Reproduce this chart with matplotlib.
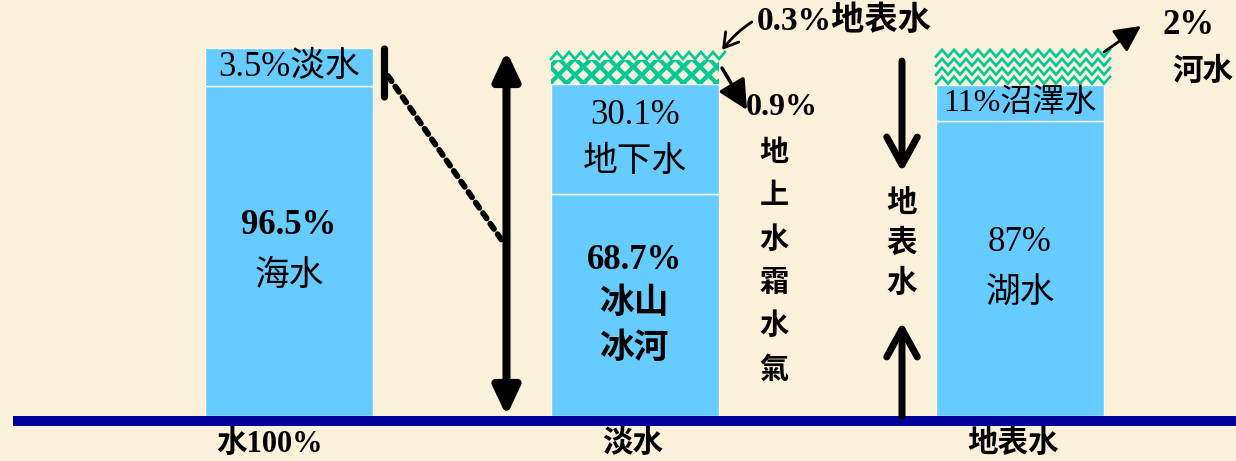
import numpy as np
import matplotlib.pyplot as plt

# 水的分配 (百分比)
categories = ["水100%", "淡水", "地表水"]
water_pct = [96.5, 3.5]
water_names = ["海水", "淡水"]
fresh_pct = [68.7, 30.1, 0.9, 0.3]
fresh_names = ["冰山\n冰河", "地下水", "地上水霜水氣", "地表水"]
surface_pct = [87, 11, 2]
surface_names = ["湖水", "沼澤水", "河水"]

W, H = 1236, 461
bg = "#FBF1DA"
blue = "#66CCFF"
green = "#00C896"
navy = "#000099"
fam = ["Liberation Serif", "Noto Sans CJK TC"]

plt.rcParams["hatch.linewidth"] = 3.0

# 示意用的縱軸: 頂端幾個百分點放大, 小份量才看得到
knots_pct = [-1000, 0, 68.7, 87, 96.5, 98.8, 99.7, 100, 1000]
knots_px = [-3231, 0, 222, 295, 330, 332, 356, 368, 368 + 900 * 40]


def to_px(y):
    return np.interp(y, knots_pct, knots_px)


def from_px(p):
    return np.interp(p, knots_px, knots_pct)


def P(x, y):
    # 圖上像素座標 (左上為原點)
    return (x, H - y)


fig = plt.figure(figsize=(W / 100, H / 100), dpi=100)
fig.patch.set_facecolor(bg)
ax = fig.add_axes([0, 0, 1, 1])
ax.set_yscale("function", functions=(to_px, from_px))
ax.set_xlim(0, W)
ax.set_ylim(from_px(-45), from_px(416))
ax.axis("off")

x_pos = [289, 635, 1020]
bar_w = 168


def zigzag(b, step=9, amp=3.5, period=12):
    x0 = b.get_x()
    x1 = x0 + b.get_width()
    lo = to_px(b.get_y())
    hi = to_px(b.get_y() + b.get_height())
    xs = np.arange(x0, x1 + period, period / 2)
    sign = np.where(np.arange(len(xs)) % 2 == 0, -1, 1)
    for row in np.arange(lo + step / 2, hi, step):
        ax.plot(xs, from_px(row + amp * sign), color=green, lw=1.9,
                clip_path=b, solid_joinstyle="miter")


def stack(x, values, kinds):
    bars = []
    bottom = 0
    for v, kind in zip(values, kinds):
        if kind == "solid":
            b = ax.bar(x, v, bottom=bottom, width=bar_w, color=blue,
                       edgecolor="white", linewidth=1)[0]
        elif kind == "hatch":
            b = ax.bar(x, v, bottom=bottom, width=bar_w, color=bg,
                       edgecolor=green, linewidth=0, hatch="xx")[0]
        else:
            b = ax.bar(x, v, bottom=bottom, width=bar_w, color=bg, linewidth=0)[0]
            zigzag(b)
        bars.append(b)
        bottom += v
    return bars


def seg_text(b, lines, dy=46, size=25):
    cx = b.get_x() + b.get_width() / 2
    mid = from_px((to_px(b.get_y()) + to_px(b.get_y() + b.get_height())) / 2)
    n = len(lines)
    for i, (s, w) in enumerate(lines):
        off = (n - 1) / 2 * dy - i * dy
        ax.annotate(s, (cx, mid), xytext=(0, off), textcoords="offset pixels",
                    ha="center", va="center", fontsize=size, fontweight=w,
                    family=fam)


left = stack(x_pos[0], water_pct, ["solid", "solid"])
mid = stack(x_pos[1], fresh_pct, ["solid", "solid", "hatch", "zigzag"])
right = stack(x_pos[2], surface_pct, ["solid", "solid", "zigzag"])

# 底線
ax.axhspan(from_px(-10), from_px(0), xmin=13 / W, xmax=1, color=navy, lw=0)

# 長條內的文字
seg_text(left[0], [(f"{water_pct[0]:g}%", "bold"), (water_names[0], "normal")], dy=50)
seg_text(left[1], [(f"{water_pct[1]:g}%{water_names[1]}", "normal")])
seg_text(mid[0], [(f"{fresh_pct[0]:g}%", "bold")]
         + [(s, "bold") for s in fresh_names[0].split("\n")], dy=44)
seg_text(mid[1], [(f"{fresh_pct[1]:g}%", "normal"), (fresh_names[1], "normal")], dy=47)
seg_text(right[0], [(f"{surface_pct[0]:g}%", "normal"), (surface_names[0], "normal")], dy=52)
seg_text(right[1], [(f"{surface_pct[1]:g}%{surface_names[1]}", "normal")], size=23)

# 底部分類名稱
for x, dx, cat in zip(x_pos, [-19, -2, -7], categories):
    ax.annotate(cat, (x, from_px(-28)), xytext=(dx, 0), textcoords="offset pixels",
                ha="center", va="center", fontsize=22, fontweight="bold",
                family=fam)

# 左邊: 淡水放大的指示線
ax.annotate("", P(384.5, 97), P(384.5, 49), xycoords="figure pixels",
            arrowprops=dict(arrowstyle="-", lw=5.2, color="black",
                            shrinkA=0, shrinkB=0))
ax.annotate("", P(503, 242), P(388, 76), xycoords="figure pixels",
            arrowprops=dict(arrowstyle="-", lw=4.2, color="black",
                            linestyle=(0, (1.1, 1.1)), shrinkA=0, shrinkB=0))
ax.annotate("", P(506.5, 51), P(506.5, 416), xycoords="figure pixels",
            arrowprops=dict(arrowstyle="<|-|>,head_length=0.85,head_width=0.4",
                            lw=5.8, color="black", mutation_scale=20,
                            shrinkA=0, shrinkB=0))

# 中間: 地表水 / 地上水霜水氣
ax.annotate(f"{fresh_pct[3]:g}%{fresh_names[3]}", P(722, 50), xytext=P(757, 21),
            xycoords="figure pixels", textcoords="figure pixels",
            ha="left", va="center", fontsize=24, fontweight="bold", family=fam,
            arrowprops=dict(arrowstyle="->,head_length=0.5,head_width=0.3",
                            lw=2, color="black", mutation_scale=20,
                            connectionstyle="arc3,rad=0.4",
                            shrinkA=2, shrinkB=0))
ax.annotate("", P(747, 110), P(722, 68), xycoords="figure pixels",
            arrowprops=dict(arrowstyle="-|>,head_length=0.9,head_width=0.45",
                            lw=2.5, color="black", mutation_scale=20,
                            shrinkA=0, shrinkB=0))
ax.annotate(f"{fresh_pct[2]:g}%", P(746, 107), xycoords="figure pixels",
            ha="left", va="center", fontsize=23, fontweight="bold", family=fam)
for i, ch in enumerate(fresh_names[2]):
    ax.annotate(ch, P(774, 153 + 43.4 * i), xycoords="figure pixels",
                ha="center", va="center", fontsize=21, fontweight="bold",
                family=fam)

# 右邊: 地表水箭頭
ax.annotate("", P(902, 172), P(902, 61), xycoords="figure pixels",
            arrowprops=dict(arrowstyle="->,head_length=1.0,head_width=0.55",
                            lw=5, color="black", mutation_scale=20,
                            shrinkA=0, shrinkB=0))
ax.annotate("", P(902, 322), P(902, 416), xycoords="figure pixels",
            arrowprops=dict(arrowstyle="->,head_length=1.0,head_width=0.55",
                            lw=5, color="black", mutation_scale=20,
                            shrinkA=0, shrinkB=0))
for i, ch in enumerate(categories[2]):
    ax.annotate(ch, P(902, 204 + 40 * i), xycoords="figure pixels",
                ha="center", va="center", fontsize=22, fontweight="bold",
                family=fam)

# 河水
ax.annotate("", P(1141, 26), P(1104, 52), xycoords="figure pixels",
            arrowprops=dict(arrowstyle="-|>,head_length=0.8,head_width=0.4",
                            lw=2, color="black", mutation_scale=20,
                            shrinkA=0, shrinkB=0))
ax.annotate(f"{surface_pct[2]:g}%", P(1188, 25), xycoords="figure pixels",
            ha="center", va="center", fontsize=25, fontweight="bold", family=fam)
ax.annotate(surface_names[2], P(1203, 72), xycoords="figure pixels",
            ha="center", va="center", fontsize=22, fontweight="bold", family=fam)

fig.savefig("out.png", dpi=100, facecolor=bg)
